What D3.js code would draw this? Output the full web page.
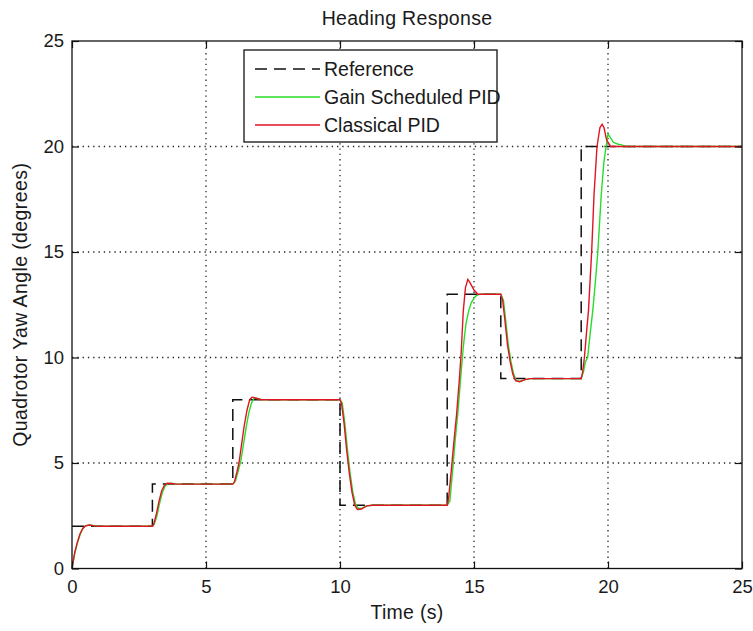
<!DOCTYPE html>
<html><head><meta charset="utf-8">
<script src="https://cdn.jsdelivr.net/npm/d3@7"></script>
<style>
body{margin:0;background:#fff;}
text{font-family:"Liberation Sans",Arial,sans-serif;fill:#1a1a1a;}
</style></head>
<body><svg id="c" width="753" height="631"></svg>
<script>
// ---- data ----
const xTicks = [0, 5, 10, 15, 20, 25];
const yTicks = [0, 5, 10, 15, 20, 25];
const seriesNames = ["Reference", "Gain Scheduled PID", "Classical PID"];

const refTime  = [0, 3, 6, 10, 14, 16, 19, 25];
const refValue = [2, 4, 8, 3, 13, 9, 20, 20];

const gainTime = [0,0.1,0.2,0.3,0.4,0.5,0.65,0.85,1.0,
  3.0,3.07,3.17,3.27,3.37,3.47,3.57,3.7,3.9,
  6.0,6.1,6.2,6.3,6.4,6.5,6.6,6.7,6.8,6.9,7.1,
  10.0,10.08,10.18,10.28,10.38,10.48,10.58,10.68,10.8,11.0,11.2,
  14.0,14.1,14.2,14.3,14.4,14.5,14.6,14.7,14.8,14.9,15.05,15.2,
  16.0,16.1,16.18,16.28,16.38,16.48,16.58,16.72,16.9,17.1,
  19.0,19.08,19.16,19.24,19.34,19.43,19.53,19.62,19.75,19.85,19.93,20.0,20.1,20.2,20.35,20.5,20.7,25];
const gainValue = [0,0.7,1.2,1.6,1.88,2.02,2.06,2.02,2.0,
  2.0,2.1,2.5,3.1,3.6,3.9,4.02,4.04,4.0,
  4.0,4.15,4.6,5.1,5.9,6.7,7.4,7.85,8.08,8.06,8.0,
  8.0,7.85,6.9,5.6,4.5,3.6,3.05,2.85,2.85,2.97,3.0,
  3.0,3.2,4.6,6.1,7.4,9.0,10.5,11.6,12.2,12.6,12.9,13.0,
  13.0,12.7,11.8,10.6,9.8,9.2,8.9,8.86,8.95,9.0,
  9.0,9.3,9.8,10.0,11.2,12.2,13.6,15.0,17.75,19.3,20.0,20.6,20.4,20.2,20.12,20.08,20.0,20.0];

const classicTime = [0,0.1,0.2,0.3,0.4,0.5,0.65,0.85,1.0,
  3.0,3.05,3.15,3.25,3.35,3.45,3.55,3.7,3.9,
  6.0,6.06,6.15,6.23,6.33,6.43,6.53,6.63,6.72,6.85,7.05,
  10.0,10.06,10.15,10.25,10.35,10.45,10.55,10.65,10.8,11.0,11.2,
  14.0,14.05,14.15,14.25,14.35,14.45,14.52,14.6,14.68,14.77,14.85,15.0,15.15,
  16.0,16.07,16.15,16.25,16.35,16.45,16.55,16.7,16.9,17.1,
  19.0,19.05,19.12,19.2,19.27,19.39,19.48,19.59,19.7,19.78,19.85,19.95,20.1,25];
const classicValue = [0,0.75,1.25,1.65,1.9,2.02,2.06,2.02,2.0,
  2.0,2.1,2.6,3.2,3.7,3.95,4.04,4.03,4.0,
  4.0,4.1,4.55,5.0,5.9,6.8,7.5,8.0,8.12,8.08,8.0,
  8.0,7.8,6.9,5.6,4.5,3.6,3.0,2.8,2.82,2.97,3.0,
  3.0,3.3,4.6,6.0,7.3,8.9,10.2,12.2,13.3,13.7,13.55,13.2,13.0,
  13.0,12.7,11.8,10.6,9.8,9.2,8.9,8.85,8.95,9.0,
  9.0,9.3,10.0,11.2,12.2,15.0,17.75,20.0,20.9,21.05,20.9,20.3,20.0,20.0];

// ---- layout ----
const svg = d3.select("#c");
const L = 72, R = 742, T = 41, B = 568.5;
const x = d3.scaleLinear().domain([0, 25]).range([L, R]);
const y = d3.scaleLinear().domain([0, 25]).range([B, T]);
const font = "18.5px";
const labelFont = "19.5px";

// grid
const g = svg.append("g");
g.selectAll(".gx").data(xTicks.filter(d => d > 0 && d < 25)).join("line")
  .attr("x1", d => x(d)).attr("x2", d => x(d)).attr("y1", B).attr("y2", T)
  .attr("stroke", "#222").attr("stroke-width", 1.3).attr("stroke-dasharray", "1.3,4");
g.selectAll(".gy").data(yTicks.filter(d => d > 0 && d < 25)).join("line")
  .attr("y1", d => y(d)).attr("y2", d => y(d)).attr("x1", L).attr("x2", R)
  .attr("stroke", "#222").attr("stroke-width", 1.3).attr("stroke-dasharray", "1.3,4");

// lines
const line = d3.line().x(d => x(d[0])).y(d => y(d[1]));
const refPts = refTime.map((t, i) => [t, refValue[i]]);
const gainPts = gainTime.map((t, i) => [t, gainValue[i]]);
const classicPts = classicTime.map((t, i) => [t, classicValue[i]]);

svg.append("path").attr("d", d3.line().x(d => x(d[0])).y(d => y(d[1])).curve(d3.curveStepAfter)(refPts))
  .attr("fill", "none").attr("stroke", "#111").attr("stroke-width", 1.5).attr("stroke-dasharray", "12,7");
svg.append("path").attr("d", line(gainPts))
  .attr("fill", "none").attr("stroke", "rgb(40,220,40)").attr("stroke-width", 1.4);
svg.append("path").attr("d", line(classicPts))
  .attr("fill", "none").attr("stroke", "rgb(225,20,35)").attr("stroke-width", 1.4);

// axes
function styleAxis(sel, labels) {
  sel.select(".domain").remove();
  sel.selectAll(".tick line").attr("stroke", "#111").attr("stroke-width", 1.2);
  sel.selectAll(".tick text").style("font-size", font).attr("fill", "#1a1a1a");
  if (!labels) sel.selectAll(".tick text").remove();
}
const ax = svg.append("g").attr("transform", `translate(0,${B})`)
  .call(d3.axisBottom(x).tickValues(xTicks).tickSizeInner(-7).tickSizeOuter(0).tickPadding(11).tickFormat(d3.format("d")));
styleAxis(ax, true);
ax.selectAll(".tick text").attr("dy", "0.71em").attr("y", 11);
const axt = svg.append("g").attr("transform", `translate(0,${T})`)
  .call(d3.axisTop(x).tickValues(xTicks).tickSizeInner(-7).tickSizeOuter(0));
styleAxis(axt, false);
const ay = svg.append("g").attr("transform", `translate(${L},0)`)
  .call(d3.axisLeft(y).tickValues(yTicks).tickSizeInner(-7).tickSizeOuter(0).tickPadding(8).tickFormat(d3.format("d")));
styleAxis(ay, true);
const ayr = svg.append("g").attr("transform", `translate(${R},0)`)
  .call(d3.axisRight(y).tickValues(yTicks).tickSizeInner(-7).tickSizeOuter(0));
styleAxis(ayr, false);

// box
svg.append("rect").attr("x", L).attr("y", T).attr("width", R - L).attr("height", B - T)
  .attr("fill", "none").attr("stroke", "#111").attr("stroke-width", 1.3);

// titles
svg.append("text").attr("x", (L + R) / 2).attr("y", 25).attr("text-anchor", "middle")
  .style("font-size", labelFont).style("letter-spacing", "0.3px").text("Heading Response");
svg.append("text").attr("x", (L + R) / 2).attr("y", 619).attr("text-anchor", "middle")
  .style("font-size", labelFont).style("letter-spacing", "0.3px").text("Time (s)");
svg.append("text").attr("transform", `translate(27,${(T + B) / 2}) rotate(-90)`).attr("text-anchor", "middle")
  .style("font-size", labelFont).style("letter-spacing", "0.4px").text("Quadrotor Yaw Angle (degrees)");

// legend
const lg = svg.append("g");
lg.append("rect").attr("x", 244).attr("y", 50).attr("width", 253).attr("height", 92)
  .attr("fill", "#fff").attr("stroke", "#111").attr("stroke-width", 1.3);
const legStyles = [
  {c: "#111", dash: "12,7"},
  {c: "rgb(40,220,40)", dash: null},
  {c: "rgb(225,20,35)", dash: null}
];
seriesNames.forEach((n, i) => {
  const yy = 69 + i * 28;
  lg.append("line").attr("x1", 255).attr("x2", 320).attr("y1", yy).attr("y2", yy)
    .attr("stroke", legStyles[i].c).attr("stroke-width", 1.5)
    .attr("stroke-dasharray", legStyles[i].dash);
  lg.append("text").attr("x", 324).attr("y", yy + 6.8).style("font-size", labelFont).text(n);
});
</script></body></html>
